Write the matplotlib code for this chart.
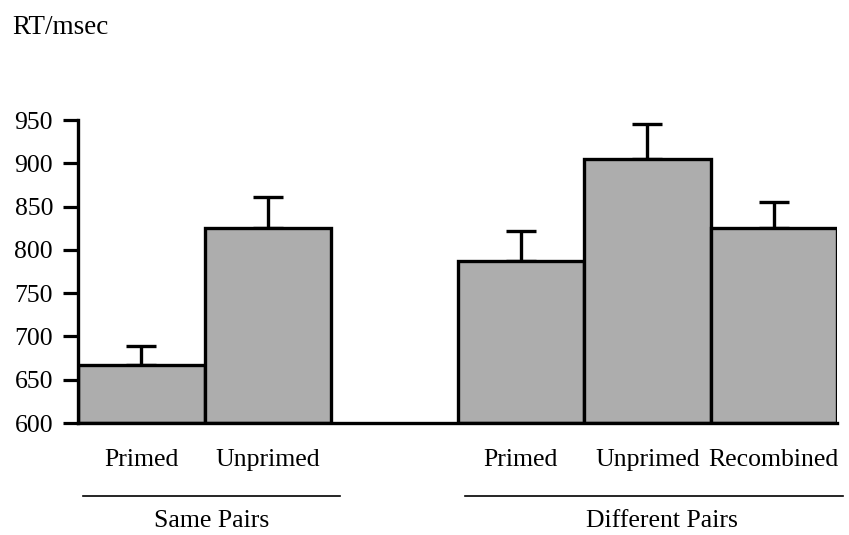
import matplotlib
matplotlib.use("Agg")
import matplotlib.pyplot as plt
from matplotlib.transforms import blended_transform_factory

plt.rcParams['font.family'] = ['Liberation Serif', 'DejaVu Serif']

categories = ["Primed", "Unprimed", "Primed", "Unprimed", "Recombined"]
positions = [0.5, 1.5, 3.5, 4.5, 5.5]
rt_values = [667, 825, 787, 905, 825]
rt_errors = [22, 36, 35, 40, 30]
groups = ["Same Pairs", "Different Pairs"]
group_spans = [(0.04, 2.07), (3.06, 6.05)]
group_label_x = [1.06, 4.62]
yticks = [600, 650, 700, 750, 800, 850, 900, 950]

fig = plt.figure(figsize=(8.49, 5.35), dpi=100)
ax = fig.add_axes([78/849, 1-423/535, (837-78)/849, (423-120)/535])

ax.bar(positions, [v - 600 for v in rt_values], bottom=600, width=1.0,
       color='#adadad', edgecolor='black', linewidth=2.4, zorder=2)
ax.errorbar(positions, rt_values, yerr=[[0]*len(rt_errors), rt_errors],
            fmt='none', ecolor='black', elinewidth=2.4, capsize=11,
            capthick=2.4, zorder=1)

ax.set_xlim(0, 6)
ax.set_ylim(600, 950)
ax.set_yticks(yticks)
ax.set_yticklabels([str(t) for t in yticks], fontsize=18.5)
ax.tick_params(axis='y', direction='out', length=11, width=2.3, pad=7)
ax.set_xticks(positions)
ax.set_xticklabels(categories, fontsize=18.5)
ax.tick_params(axis='x', length=0, pad=19)

for s in ['top', 'right']:
    ax.spines[s].set_visible(False)
ax.spines['left'].set_linewidth(2.4)
ax.spines['bottom'].set_linewidth(2.4)
ax.spines['left'].set_bounds(600, 950)

trans = blended_transform_factory(ax.transData, ax.transAxes)
for (x0, x1), lx, name in zip(group_spans, group_label_x, groups):
    ax.plot([x0, x1], [-0.241, -0.241], color='black', linewidth=1.2,
            transform=trans, clip_on=False)
    ax.text(lx, -0.325, name, fontsize=18.5, ha='center', va='center',
            transform=trans)

fig.text(12/849, 1-15/535, "RT/msec", fontsize=19.5, ha='left', va='top')

fig.savefig("out.png", dpi=100)
